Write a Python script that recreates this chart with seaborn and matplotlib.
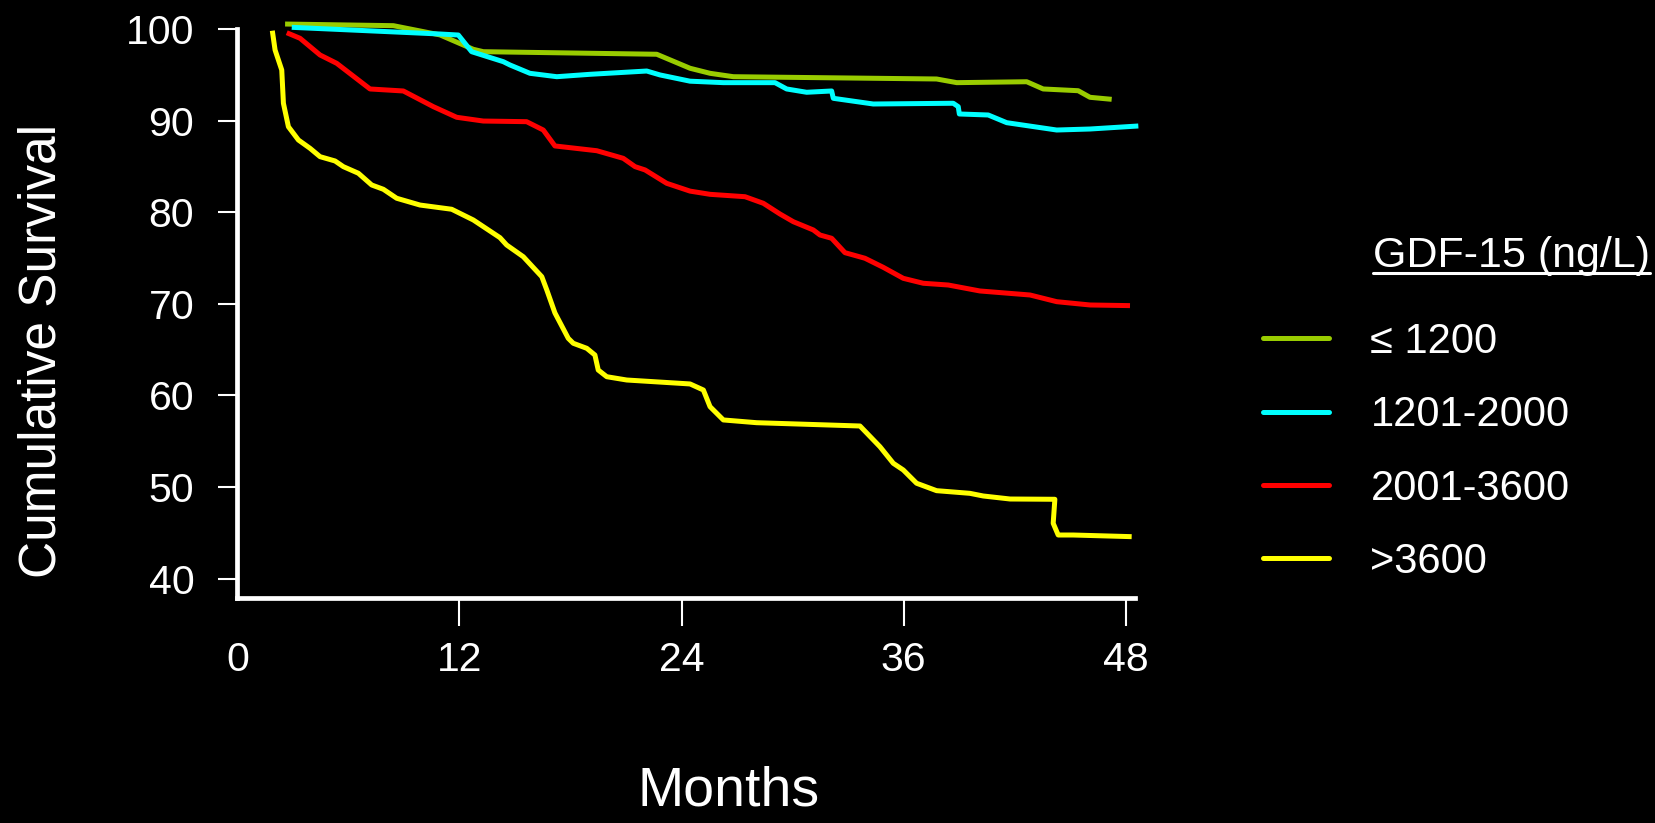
import pandas as pd
import numpy as np
import matplotlib
matplotlib.use("Agg")
import matplotlib.pyplot as plt
from matplotlib.lines import Line2D
import seaborn as sns

# Survival curves (months, cumulative survival %)
groups = ["≤ 1200", "1201-2000", "2001-3600", ">3600"]
colors = ["#99CC00", "#00FFFF", "#FF0000", "#FFFF00"]

low_months = [2.58, 8.43, 10.95, 12.75, 13.29, 22.66, 24.46, 25.54, 26.80,
              37.78, 38.87, 42.65, 43.54, 45.43, 46.07, 47.24]
low_surv = [100.54, 100.36, 99.35, 97.78, 97.52, 97.24, 95.71, 95.16, 94.79,
            94.54, 94.14, 94.24, 93.45, 93.26, 92.54, 92.32]

mid_months = [2.94, 10.95, 11.94, 12.66, 14.37, 14.73, 15.81, 17.26, 19.05,
              22.12, 22.84, 24.46, 26.26, 29.05, 29.68, 30.76, 32.11, 32.20,
              34.36, 38.68, 38.95, 39.01, 40.57, 41.57, 44.27, 46.07, 48.68]
mid_surv = [100.18, 99.45, 99.34, 97.52, 96.43, 96.07, 95.16, 94.79, 95.05,
            95.41, 94.98, 94.30, 94.14, 94.14, 93.45, 93.09, 93.23, 92.43,
            91.81, 91.89, 91.52, 90.72, 90.61, 89.77, 88.97, 89.08, 89.41]

high_months = [2.67, 3.39, 4.47, 5.37, 7.17, 8.97, 10.59, 11.85, 13.29, 15.63,
               16.53, 17.16, 19.42, 20.85, 21.49, 22.03, 23.20, 24.46, 25.54,
               27.43, 28.42, 29.32, 30.04, 31.12, 31.48, 32.11, 32.83, 33.91,
               34.90, 35.98, 37.06, 38.41, 40.12, 42.83, 44.27, 46.07, 48.23]
high_surv = [99.59, 98.98, 97.16, 96.25, 93.45, 93.23, 91.52, 90.36, 89.95, 89.88,
             88.97, 87.23, 86.71, 85.88, 84.97, 84.61, 83.15, 82.30, 81.95,
             81.69, 80.97, 79.80, 78.96, 78.06, 77.51, 77.15, 75.58, 74.97,
             73.98, 72.78, 72.24, 72.05, 71.40, 70.96, 70.23, 69.87, 69.80]

top_months = [1.89, 2.04, 2.40, 2.49, 2.76, 3.30, 3.93, 4.47, 5.28, 5.73, 6.54,
              7.26, 7.89, 8.61, 9.87, 11.58, 12.75, 14.19, 14.55, 15.45, 16.45,
              16.72, 17.16, 17.88, 18.15, 18.88, 19.32, 19.50, 19.96, 21.04,
              24.46, 25.18, 25.54, 26.26, 28.06, 33.64, 34.72, 35.44, 35.98,
              36.70, 37.78, 39.58, 40.30, 41.75, 44.17, 44.08, 44.35, 45.16, 48.32]
top_surv = [99.81, 97.70, 95.52, 91.89, 89.33, 87.88, 86.97, 86.06, 85.59, 84.97,
            84.25, 82.97, 82.50, 81.52, 80.78, 80.32, 79.15, 77.22, 76.42, 75.14,
            72.96, 71.51, 69.00, 66.23, 65.69, 65.14, 64.41, 62.77, 62.04, 61.68,
            61.25, 60.59, 58.77, 57.32, 57.02, 56.66, 54.40, 52.59, 51.86,
            50.41, 49.60, 49.31, 49.02, 48.69, 48.66, 46.04, 44.76, 44.76, 44.58]

x_ticks = [0, 12, 24, 36, 48]
y_ticks = [40, 50, 60, 70, 80, 90, 100]

frames = []
for name, m, s in zip(groups,
                      [low_months, mid_months, high_months, top_months],
                      [low_surv, mid_surv, high_surv, top_surv]):
    frames.append(pd.DataFrame({"month": m, "survival": s, "group": name}))
df = pd.concat(frames, ignore_index=True)

sns.set_theme(style="ticks")
plt.rcParams["font.family"] = ["Liberation Sans", "DejaVu Sans"]
plt.rcParams.update({
    "figure.facecolor": "black",
    "axes.facecolor": "black",
    "text.color": "white",
    "axes.labelcolor": "white",
    "xtick.color": "white",
    "ytick.color": "white",
})

W, H = 1655, 823
fig = plt.figure(figsize=(W / 100, H / 100), dpi=100)
ax = fig.add_axes([0.1434, 0.2729, 0.5424, 0.6919])

sns.lineplot(data=df, x="month", y="survival", hue="group", hue_order=groups,
             palette=colors, sort=False, estimator=None, linewidth=3.6,
             legend=False, ax=ax)
for ln in ax.lines:
    ln.set_clip_on(False)
    ln.set_solid_joinstyle("round")
    ln.set_solid_capstyle("butt")

ax.set_xlim(0, 48.5)
ax.set_ylim(37.84, 100)
ax.set_xticks(x_ticks)
ax.set_yticks(y_ticks)
ax.tick_params(axis="x", labelsize=29.5, length=20, width=1.5, pad=11, direction="out")
ax.tick_params(axis="y", labelsize=29.5, length=14, width=1.5, pad=17, direction="out")
ax.xaxis.get_major_ticks()[0].tick1line.set_visible(False)

for side in ["top", "right"]:
    ax.spines[side].set_visible(False)
for side in ["left", "bottom"]:
    ax.spines[side].set_color("white")
    ax.spines[side].set_linewidth(3.4)
    ax.spines[side].set_capstyle("projecting")

ax.set_xlabel("Months", fontsize=40)
ax.set_ylabel("Cumulative Survival", fontsize=37)
ax.xaxis.set_label_coords((729 - 237.3) / 897.7, -0.294)
ax.yaxis.set_label_coords((66 - 237.3) / 897.7, 0.435)

# legend
handles = [Line2D([0], [0], color=c, lw=3.6) for c in colors]
leg = fig.legend(handles, groups, loc="upper left",
                 bbox_to_anchor=(1263 / W, 1 - 322 / H), frameon=False,
                 fontsize=30, handlelength=1.58, handletextpad=1.0,
                 labelspacing=0.8, borderpad=0, borderaxespad=0)

title = fig.text(1373 / W, 1 - 267 / H, "GDF-15 (ng/L)", fontsize=31,
                 ha="left", va="baseline", color="white")
fig.canvas.draw()
bb = title.get_window_extent(fig.canvas.get_renderer())
fig.add_artist(Line2D([bb.x0 / W, bb.x1 / W], [1 - 273 / H, 1 - 273 / H],
                      transform=fig.transFigure, color="white", lw=2.2))

fig.savefig("out.png", dpi=100, facecolor="black")
